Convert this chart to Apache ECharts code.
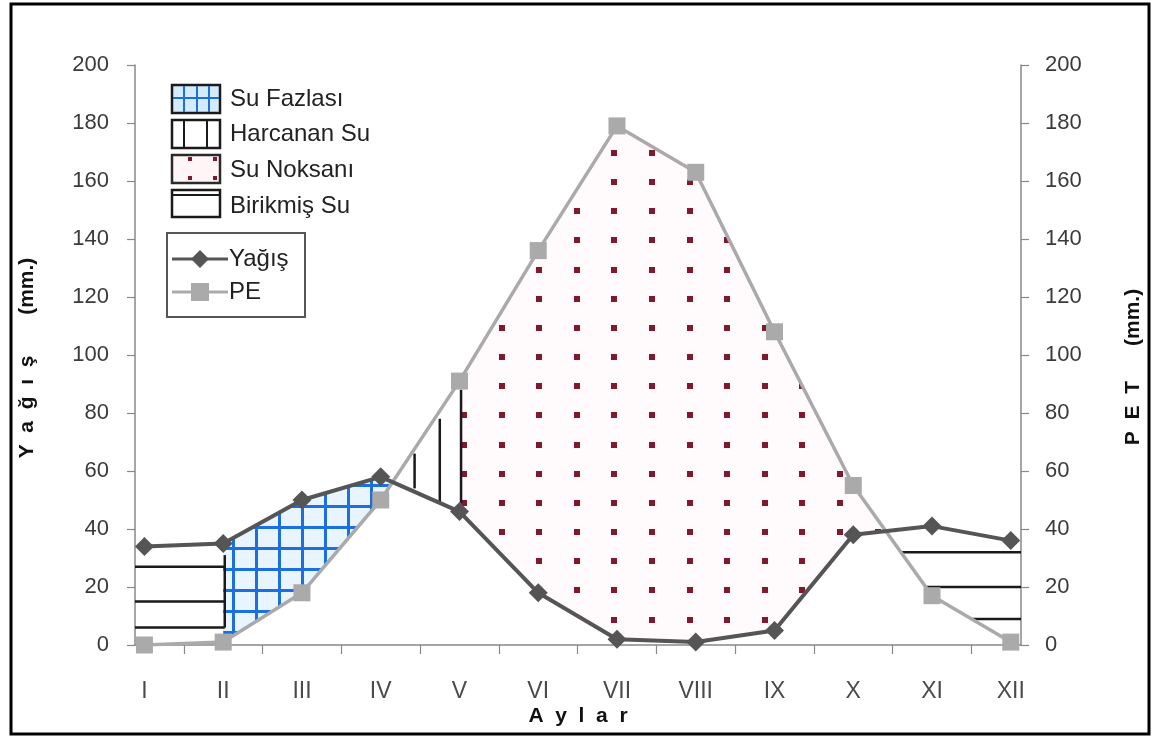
<!DOCTYPE html>
<html>
<head>
<meta charset="utf-8">
<script src="https://cdn.jsdelivr.net/npm/echarts@6/dist/echarts.min.js"></script>
<style>
html,body{margin:0;padding:0;background:#fff;}
#chart{width:1155px;height:738px;}
</style>
</head>
<body>
<div id="chart"></div>
<script>
// ---------- data ----------
const monthLabels = ['I','II','III','IV','V','VI','VII','VIII','IX','X','XI','XII'];
const monthPos = [1,2,3,4,5,6,7,8,9,10,11,12];
const precip = [34, 35, 50, 58, 46, 18, 2, 1, 5, 38, 41, 36];     // Yağış
const pet    = [0, 1, 18, 50, 91, 136, 179, 163, 108, 55, 17, 1];  // PE
const yTickValues = [0,20,40,60,80,100,120,140,160,180,200];
const monthTickValues = [1.5,2.5,3.5,4.5,5.5,6.5,7.5,8.5,9.5,10.5,11.5];
// Birikmiş Su (stored water) lines : [xStart, xEnd, level]
const storedLines = [[0.88,2.02,27],[0.88,2.02,15],[0.88,2.02,6],
                     [10.62,12.13,32],[10.92,12.13,20],[11.49,12.13,9]];
// vertical edge of stored block : [x, low, high]
const storedEdges = [[2.02,6,31]];
// Harcanan Su (water used) : [x, low, high]
const usedLines = [[4.43,54,66],[4.75,49,78],[5.02,49,88]];
const xMin = 0.88, xMax = 12.13;

// ---------- patterns ----------
function blueGrid(){
  const c=document.createElement('canvas'); c.width=23; c.height=21;
  const g=c.getContext('2d');
  g.fillStyle='#e8f5ff'; g.fillRect(0,0,23,21);
  g.fillStyle='#1b6fde';
  g.fillRect(2,0,3,21);
  g.fillRect(0,1,23,3);
  return c;
}
function redDots(){
  const w=188,h=175; const c=document.createElement('canvas'); c.width=w; c.height=h;
  const g=c.getContext('2d');
  g.fillStyle='#fffafb'; g.fillRect(0,0,w,h);
  g.fillStyle='#82182e';
  for(let i=0;i<5;i++){for(let j=0;j<6;j++){
    const x=Math.round((88+i*37.6)%w), y=Math.round((7+j*29.17)%h);
    g.fillRect(x-3,y-3,6,6);
  }}
  return c;
}
const bluePat={image:blueGrid(),repeat:'repeat'};
const redPat={image:redDots(),repeat:'repeat'};

function crossing(i){
  const d0=precip[i]-pet[i], d1=precip[i+1]-pet[i+1];
  const t=d0/(d0-d1);
  return [monthPos[i]+t*(monthPos[i+1]-monthPos[i]), precip[i]+t*(precip[i+1]-precip[i])];
}
// surplus: precip above PE from II to IV/V crossing
const surplusPoly = (function(){
  const p=[]; for(let i=1;i<=3;i++) p.push([monthPos[i],precip[i]]);
  p.push(crossing(3));
  for(let i=3;i>=1;i--) p.push([monthPos[i],pet[i]]);
  return p;
})();
// deficit: PE above precip from V to X/XI crossing
const deficitPoly = (function(){
  const p=[]; for(let i=4;i<=9;i++) p.push([monthPos[i],pet[i]]);
  p.push(crossing(9));
  for(let i=9;i>=4;i--) p.push([monthPos[i],precip[i]]);
  return p;
})();

function polySeries(poly, fill){
  return {type:'custom', coordinateSystem:'cartesian2d', silent:true, z:1, clip:false,
    data:[[poly[0][0],poly[0][1]]],
    renderItem:function(params,api){
      return {type:'polygon', shape:{points:poly.map(p=>api.coord(p))}, style:{fill:fill, stroke:null}};
    }};
}
function lineSegSeries(defs, color, width){
  return {type:'custom', coordinateSystem:'cartesian2d', silent:true, z:2, clip:false,
    data:defs.map(d=>[d.x1,d.y1]),
    renderItem:function(params,api){
      const d=defs[params.dataIndex];
      const a=api.coord([d.x1,d.y1]), b=api.coord([d.x2,d.y2]);
      return {type:'line', shape:{x1:a[0],y1:a[1],x2:b[0],y2:b[1]}, style:{stroke:color,lineWidth:width}};
    }};
}
const storedDefs = storedLines.map(s=>({x1:s[0],y1:s[2],x2:s[1],y2:s[2]}))
  .concat(storedEdges.map(e=>({x1:e[0],y1:e[1],x2:e[0],y2:e[2]})));
const usedDefs = usedLines.map(u=>({x1:u[0],y1:u[1],x2:u[0],y2:u[2]}));

const labelFont = '"Liberation Sans", Arial, sans-serif';
const chart = echarts.init(document.getElementById('chart'), null, {renderer:'canvas'});

const LF = '24px '+labelFont;
const legendGraphics = [
  // Su Fazlası
  {type:'rect', shape:{x:172,y:85,width:48,height:28}, style:{fill:'#d3ebfd',stroke:'#1a1a1a',lineWidth:2.5}},
  {type:'line', shape:{x1:184,y1:86,x2:184,y2:112}, style:{stroke:'#1b6fde',lineWidth:2}},
  {type:'line', shape:{x1:197,y1:86,x2:197,y2:112}, style:{stroke:'#1b6fde',lineWidth:2}},
  {type:'line', shape:{x1:209,y1:86,x2:209,y2:112}, style:{stroke:'#1b6fde',lineWidth:2}},
  {type:'line', shape:{x1:173,y1:98,x2:219,y2:98}, style:{stroke:'#1b6fde',lineWidth:2}},
  {type:'text', x:230, y:99, style:{text:'Su Fazlası', font:LF, fill:'#222', verticalAlign:'middle'}},
  // Harcanan Su
  {type:'rect', shape:{x:172,y:120,width:48,height:28}, style:{fill:'#fff',stroke:'#1a1a1a',lineWidth:2.5}},
  {type:'line', shape:{x1:184,y1:120,x2:184,y2:148}, style:{stroke:'#1a1a1a',lineWidth:2}},
  {type:'line', shape:{x1:207,y1:120,x2:207,y2:148}, style:{stroke:'#1a1a1a',lineWidth:2}},
  {type:'text', x:230, y:134, style:{text:'Harcanan Su', font:LF, fill:'#222', verticalAlign:'middle'}},
  // Su Noksanı
  {type:'rect', shape:{x:172,y:155,width:48,height:28}, style:{fill:'#fff5f6',stroke:'#2a2a2a',lineWidth:2.5}},
  {type:'rect', shape:{x:188,y:157,width:4,height:4}, style:{fill:'#82182e'}},
  {type:'rect', shape:{x:213,y:157,width:4,height:4}, style:{fill:'#82182e'}},
  {type:'rect', shape:{x:188,y:176,width:4,height:4}, style:{fill:'#82182e'}},
  {type:'rect', shape:{x:213,y:176,width:4,height:4}, style:{fill:'#82182e'}},
  {type:'text', x:230, y:170, style:{text:'Su Noksanı', font:LF, fill:'#222', verticalAlign:'middle'}},
  // Birikmiş Su
  {type:'rect', shape:{x:172,y:190,width:48,height:27}, style:{fill:'#fff',stroke:'#1a1a1a',lineWidth:2.5}},
  {type:'line', shape:{x1:172,y1:195,x2:220,y2:195}, style:{stroke:'#1a1a1a',lineWidth:2}},
  {type:'text', x:230, y:206, style:{text:'Birikmiş Su', font:LF, fill:'#222', verticalAlign:'middle'}},
  // line legend box
  {type:'rect', shape:{x:167,y:233,width:138,height:84}, style:{fill:'#fff',stroke:'#555',lineWidth:2}},
  {type:'line', shape:{x1:172,y1:259,x2:228,y2:259}, style:{stroke:'#555',lineWidth:3}},
  {type:'polygon', shape:{points:[[200,250],[209,259],[200,268],[191,259]]}, style:{fill:'#555'}},
  {type:'text', x:229, y:259, style:{text:'Yağış', font:LF, fill:'#222', verticalAlign:'middle'}},
  {type:'line', shape:{x1:172,y1:292,x2:228,y2:292}, style:{stroke:'#aaa',lineWidth:3}},
  {type:'rect', shape:{x:191,y:283,width:18,height:18}, style:{fill:'#aaa'}},
  {type:'text', x:229, y:292, style:{text:'PE', font:LF, fill:'#222', verticalAlign:'middle'}},
  // axis titles
  {type:'text', x:578, y:716, style:{text:'A  y  l  a  r', font:'bold 21px '+labelFont, fill:'#111', align:'center', verticalAlign:'middle'}},
  {type:'text', x:27, y:358, rotation:Math.PI/2, style:{text:'Y  a  ğ  ı  ş       (mm.)', font:'bold 21px '+labelFont, fill:'#111', align:'center', verticalAlign:'middle'}},
  {type:'text', x:1133, y:367, rotation:Math.PI/2, style:{text:'P  E  T      (mm.)', font:'bold 21px '+labelFont, fill:'#111', align:'center', verticalAlign:'middle'}},
  // outer frame
  {type:'rect', shape:{x:11,y:4,width:1138,height:730}, style:{fill:null,stroke:'#000',lineWidth:3}, z:100}
];

const yAxisCommon = {
  type:'value', min:0, max:200, interval:20,
  splitLine:{show:false},
  axisLine:{show:true, lineStyle:{color:'#888', width:1.5}},
  axisTick:{show:true, length:8, lineStyle:{color:'#888', width:1.2}},
  axisLabel:{fontSize:22, color:'#3a3a3a', fontFamily:labelFont}
};

chart.setOption({
  animation:false,
  backgroundColor:'#fff',
  grid:{left:135, right:134, top:65, bottom:93, containLabel:false},
  xAxis:{
    type:'value', min:xMin, max:xMax,
    splitLine:{show:false},
    axisLine:{show:true, onZero:false, lineStyle:{color:'#888', width:1.5}},
    axisTick:{show:true, customValues:monthTickValues, length:9, lineStyle:{color:'#888', width:1.2}},
    axisLabel:{customValues:monthPos, formatter:v=>monthLabels[Math.round(v)-1], margin:35, fontSize:23,
      color:'#4a4a4a', fontFamily:labelFont}
  },
  yAxis:[
    Object.assign({}, yAxisCommon, {position:'left', axisLabel:Object.assign({}, yAxisCommon.axisLabel, {margin:26})}),
    Object.assign({}, yAxisCommon, {position:'right', axisLabel:Object.assign({}, yAxisCommon.axisLabel, {margin:24})})
  ],
  graphic:legendGraphics,
  series:[
    polySeries(surplusPoly, bluePat),
    polySeries(deficitPoly, redPat),
    lineSegSeries(storedDefs, '#1a1a1a', 2.5),
    lineSegSeries(usedDefs, '#1a1a1a', 2.5),
    {name:'Yağış', type:'line', data:monthPos.map((m,i)=>[m,precip[i]]), z:5,
     symbol:'diamond', symbolSize:19, lineStyle:{color:'#555', width:4}, itemStyle:{color:'#555'}},
    {name:'PE', type:'line', data:monthPos.map((m,i)=>[m,pet[i]]), z:4,
     symbol:'rect', symbolSize:17, lineStyle:{color:'#aaa', width:3.5}, itemStyle:{color:'#aaa'}}
  ]
});
</script>
</body>
</html>
